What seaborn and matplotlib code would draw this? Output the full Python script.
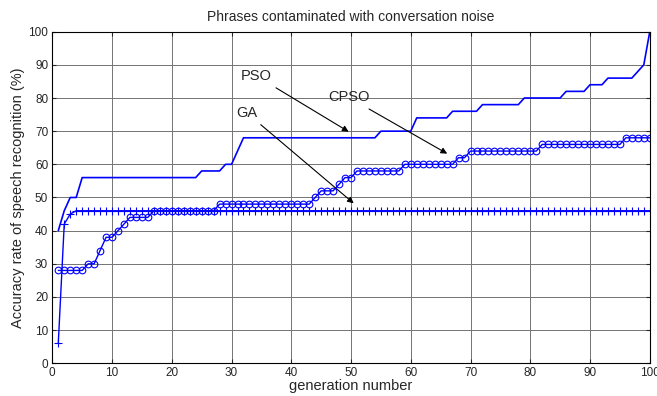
import numpy as np
import pandas as pd
import matplotlib
matplotlib.use('Agg')
import matplotlib.pyplot as plt
import seaborn as sns

# generations 1..100
generation = np.arange(1, 101)

pso = [40, 46, 50, 50, 56, 56, 56, 56, 56, 56,
       56, 56, 56, 56, 56, 56, 56, 56, 56, 56,
       56, 56, 56, 56, 58, 58, 58, 58, 60, 60,
       64, 68, 68, 68, 68, 68, 68, 68, 68, 68,
       68, 68, 68, 68, 68, 68, 68, 68, 68, 68,
       68, 68, 68, 68, 70, 70, 70, 70, 70, 70,
       74, 74, 74, 74, 74, 74, 76, 76, 76, 76,
       76, 78, 78, 78, 78, 78, 78, 78, 80, 80,
       80, 80, 80, 80, 80, 82, 82, 82, 82, 84,
       84, 84, 86, 86, 86, 86, 86, 88, 90, 100]

cpso = [28, 28, 28, 28, 28, 30, 30, 34, 38, 38,
        40, 42, 44, 44, 44, 44, 46, 46, 46, 46,
        46, 46, 46, 46, 46, 46, 46, 48, 48, 48,
        48, 48, 48, 48, 48, 48, 48, 48, 48, 48,
        48, 48, 48, 50, 52, 52, 52, 54, 56, 56,
        58, 58, 58, 58, 58, 58, 58, 58, 60, 60,
        60, 60, 60, 60, 60, 60, 60, 62, 62, 64,
        64, 64, 64, 64, 64, 64, 64, 64, 64, 64,
        64, 66, 66, 66, 66, 66, 66, 66, 66, 66,
        66, 66, 66, 66, 66, 68, 68, 68, 68, 68]

ga = [6, 42, 45, 46, 46, 46, 46, 46, 46, 46,
      46, 46, 46, 46, 46, 46, 46, 46, 46, 46,
      46, 46, 46, 46, 46, 46, 46, 46, 46, 46,
      46, 46, 46, 46, 46, 46, 46, 46, 46, 46,
      46, 46, 46, 46, 46, 46, 46, 46, 46, 46,
      46, 46, 46, 46, 46, 46, 46, 46, 46, 46,
      46, 46, 46, 46, 46, 46, 46, 46, 46, 46,
      46, 46, 46, 46, 46, 46, 46, 46, 46, 46,
      46, 46, 46, 46, 46, 46, 46, 46, 46, 46,
      46, 46, 46, 46, 46, 46, 46, 46, 46, 46]

df = pd.DataFrame({'generation': generation, 'PSO': pso, 'CPSO': cpso, 'GA': ga})

sns.set_style('ticks')
plt.rcParams['font.family'] = ['Liberation Sans', 'DejaVu Sans']

fig = plt.figure(figsize=(6.57, 3.96), dpi=100)
ax = fig.add_axes([0.0796, 0.0826, 0.9094, 0.8374])

blue = '#0000ff'
sns.lineplot(data=df, x='generation', y='PSO', ax=ax, color=blue, linewidth=1.2)
sns.lineplot(data=df, x='generation', y='CPSO', ax=ax, color=blue, linewidth=1.0,
             marker='o', markersize=4.8, markerfacecolor='none',
             markeredgecolor=blue, markeredgewidth=0.8)
sns.lineplot(data=df, x='generation', y='GA', ax=ax, color=blue, linewidth=1.0,
             marker='+', markersize=6, markeredgecolor=blue, markeredgewidth=0.8)

ax.set_xlim(0, 100)
ax.set_ylim(0, 100)
ax.set_xticks(range(0, 101, 10))
ax.set_yticks(range(0, 101, 10))
ax.grid(True, color='0.45', linewidth=0.7)
ax.tick_params(direction='in', length=3, top=True, right=True, labelsize=8.5, pad=3)
for s in ax.spines.values():
    s.set_color('black')
    s.set_linewidth(0.8)

ax.set_title('Phrases contaminated with conversation noise', fontsize=10, pad=8)
ax.set_xlabel('generation number', fontsize=10.5, labelpad=0)
ax.set_ylabel('Accuracy rate of speech recognition (%)', fontsize=10.5, labelpad=2)

arrow = dict(arrowstyle='-|>', color='black', lw=0.8, mutation_scale=9)
ax.annotate('PSO', xy=(50, 69.4), xytext=(34.2, 86.6), fontsize=10.5,
            ha='center', va='center', arrowprops=arrow)
ax.annotate('CPSO', xy=(66.5, 62.8), xytext=(49.6, 80.2), fontsize=10.5,
            ha='center', va='center', arrowprops=arrow)
ax.annotate('GA', xy=(50.8, 47.7), xytext=(32.5, 75.6), fontsize=10.5,
            ha='center', va='center', arrowprops=arrow)

fig.savefig('out.png', dpi=100)
